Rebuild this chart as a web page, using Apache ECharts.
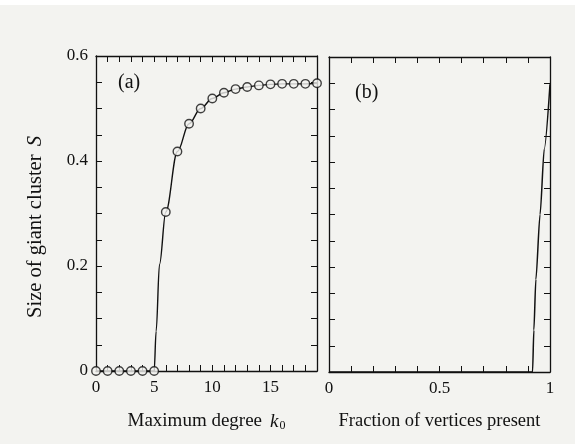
<!DOCTYPE html>
<html>
<head>
<meta charset="utf-8">
<script src="https://cdn.jsdelivr.net/npm/echarts@6/dist/echarts.min.js"></script>
<style>
html,body{margin:0;padding:0;background:#f3f3f0;}
#c{width:575px;height:444px;}
</style>
</head>
<body>
<div id="c"></div>
<script>
// Panel (a): maximum degree k0 vs giant cluster size S (markers)
const degreeK = [0,1,2,3,4,5,6,7,8,9,10,11,12,13,14,15,16,17,18,19];
const sizeS   = [0,0,0,0,0,0,0.303,0.418,0.471,0.500,0.519,0.530,0.537,0.541,0.544,0.546,0.547,0.547,0.547,0.548];
// Panel (a): solid curve (includes the steep rise after k0 = 5)
const curveAX = [0,1,2,3,4,5,5.17,5.46,6,7,8,9,10,11,12,13,14,15,16,17,18,19];
const curveAY = [0,0,0,0,0,0,0.076,0.203,0.303,0.418,0.471,0.500,0.519,0.530,0.537,0.541,0.544,0.546,0.547,0.547,0.547,0.548];
// Panel (b): fraction of vertices present vs S
const fracX = [0,0.921,0.927,0.936,0.955,0.974,1.0];
const fracY = [0,0,0.08,0.176,0.30,0.425,0.548];
// Tick labels
const xTicksA = [0,5,10,15];
const xTicksB = [0,0.5,1];
const yTicks  = [0,0.2,0.4,0.6];

const BG = '#f3f3f0';
const INK = '#111111';
const FONT = '"Liberation Serif","DejaVu Serif",serif';

function near(v, list){ return list.some(t => Math.abs(t - v) < 1e-6); }

const tickStyle = {show:true, inside:true, length:6, lineStyle:{color:INK, width:1}};
const lineStyle = {show:true, onZero:false, lineStyle:{color:INK, width:1.3}};

function xAx(grid, pos, min, max, step, ticks, name){
  return {
    type:'value', gridIndex:grid, position:pos, min:min, max:max, interval:step,
    axisLine: lineStyle, axisTick: tickStyle, splitLine:{show:false},
    axisLabel:{show: pos==='bottom', interval:0, margin:8, color:INK, fontFamily:FONT, fontSize:17,
      formatter: v => near(v, ticks) ? String(+v.toFixed(2)) : ''},
    name: name || '', nameLocation:'middle', nameGap:40,
    nameTextStyle:{color:INK, fontFamily:FONT, fontSize:18.5,
      rich:{a:{fontFamily:FONT,fontSize:19,color:INK}, k:{fontFamily:FONT,fontSize:19,fontStyle:'italic',color:INK,padding:[0,0,0,8]}, s:{fontFamily:FONT,fontSize:12,color:INK,padding:[9,0,0,1]}}}
  };
}
function yAx(grid, pos, showLabels){
  return {
    type:'value', gridIndex:grid, position:pos, min:0, max:0.6, interval:0.05,
    axisLine: lineStyle, axisTick: tickStyle, splitLine:{show:false},
    axisLabel:{show: showLabels, interval:0, margin:8, color:INK, fontFamily:FONT, fontSize:17,
      formatter: v => near(v, yTicks) ? String(+v.toFixed(2)) : ''}
  };
}

const chart = echarts.init(document.getElementById('c'), null, {renderer:'canvas'});
chart.setOption({
  backgroundColor: BG,
  animation:false,
  grid:[
    {left:96, top:56, width:221, height:315},
    {left:329, top:57, width:221, height:315}
  ],
  xAxis:[
    xAx(0,'bottom',0,19,1,xTicksA,'{a|Maximum degree}{k|k}{s|0}'),
    xAx(0,'top',0,19,1,xTicksA),
    xAx(1,'bottom',0,1,0.1,xTicksB,'Fraction of vertices present'),
    xAx(1,'top',0,1,0.1,xTicksB)
  ],
  yAxis:[
    yAx(0,'left',true),
    yAx(0,'right',false),
    yAx(1,'left',false),
    yAx(1,'right',false)
  ],
  series:[
    {type:'line', xAxisIndex:0, yAxisIndex:0, showSymbol:false, symbol:'none', smooth:0.35, smoothMonotone:'x',
      data: curveAX.map((x,i)=>[x, curveAY[i]]), lineStyle:{color:INK, width:1.4}, z:2},
    {type:'scatter', xAxisIndex:0, yAxisIndex:0, symbol:'circle', symbolSize:8.5,
      data: degreeK.map((x,i)=>[x, sizeS[i]]),
      itemStyle:{color:BG, borderColor:INK, borderWidth:1.4}, z:3},
    {type:'line', xAxisIndex:2, yAxisIndex:2, showSymbol:false, symbol:'none', smooth:0.25, smoothMonotone:'x',
      data: fracX.map((x,i)=>[x, fracY[i]]), lineStyle:{color:INK, width:1.5}}
  ],
  graphic:[
    {type:'rect', left:0, top:0, shape:{width:575, height:5}, style:{fill:'#ffffff'}, silent:true},
    {type:'text', x:36, y:227, rotation:Math.PI/2,
      style:{text:'{a|Size of giant cluster }{i|S}', align:'center', verticalAlign:'middle',
        rich:{a:{font:'20.5px "Liberation Serif", serif', fill:INK}, i:{font:'italic 20.5px "Liberation Serif", serif', fill:INK, padding:[0,0,0,3]}}}},
    {type:'text', left:118, top:73, style:{text:'(a)', font:'20px "Liberation Serif", serif', fill:INK}},
    {type:'text', left:355, top:83, style:{text:'(b)', font:'20px "Liberation Serif", serif', fill:INK}}
  ]
});
</script>
</body>
</html>
